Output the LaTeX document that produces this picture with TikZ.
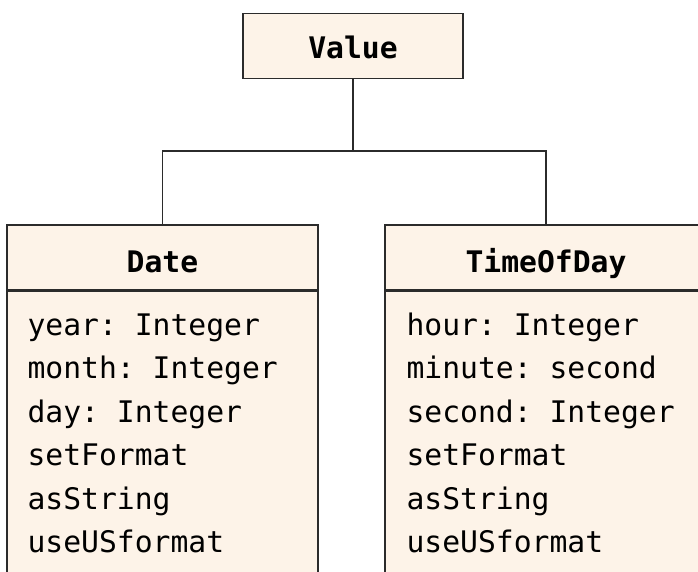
\documentclass[tikz,border=0pt]{standalone}
\usepackage{fontspec}
\setmonofont{DejaVu Sans Mono}
\usetikzlibrary{positioning}
\definecolor{boxfill}{HTML}{FDF3E8}
\definecolor{boxline}{HTML}{2B2B2B}
\tikzset{cls/.style={shape=rectangle, draw=boxline, fill=boxfill,
    line width=1.4pt, inner sep=0pt}}
\tikzset{clshead/.style={cls, minimum height=65pt, text height=29pt,
    text depth=0pt, font=\fontsize{29.7}{36}\selectfont\ttfamily\bfseries}}
\tikzset{clsbody/.style={cls, minimum height=320pt}}
\tikzset{attrs/.style={align=left, inner sep=0pt,
    font=\fontsize{29.7}{43.4}\selectfont\ttfamily}}
\tikzset{conn/.style={draw=boxline, line width=1.4pt}}

\begin{document}
\begin{tikzpicture}[x=1pt, y=-1pt]
    \useasboundingbox (0,0) rectangle (698,571);
    \clip (0,0) rectangle (698,571);
    \fill[white] (0,0) rectangle (698,571);

    % superclass
    \node[clshead, minimum width=220pt, text height=24pt] (value) at (353,46) {Value};

    % the two subclasses, header + attribute part
    \node[clshead, minimum width=311pt] (date) at (162.5,257.5) {Date};
    \node[clsbody, minimum width=311pt, below=0pt of date] (datebody) {};
    \node[attrs, below right=23pt and 21pt of datebody.north west] (dateattr)
    {year: Integer\\month: Integer\\day: Integer\\setFormat\\asString\\useUSformat};

    \node[clshead, minimum width=322pt] (tod) at (546,257.5) {TimeOfDay};
    \node[clsbody, minimum width=322pt, below=0pt of tod] (todbody) {};
    \node[attrs, below right=22pt and 22pt of todbody.north west] (todattr)
    {hour: Integer\\minute: second\\second: Integer\\setFormat\\asString\\useUSformat};

    % inheritance lines
    \coordinate (fork) at (353,151);
    \draw[conn] (value.south) -- (fork) -| (date.north);
    \draw[conn] (fork) -| (tod.north);
\end{tikzpicture}
\end{document}
